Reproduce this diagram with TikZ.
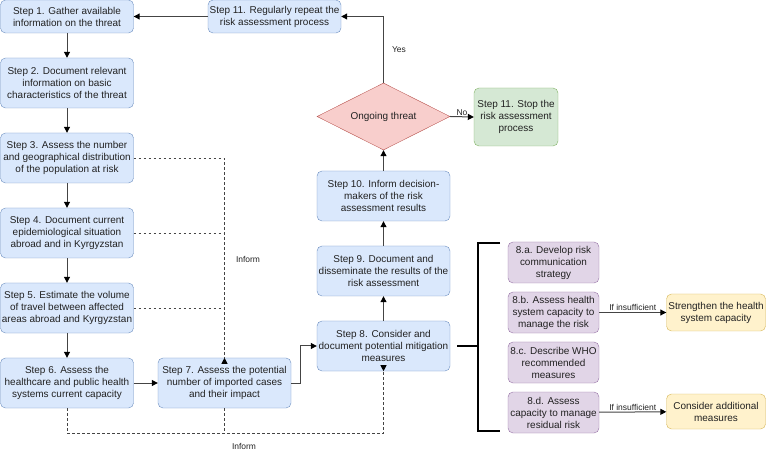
\documentclass[tikz,border=0pt]{standalone}
\usepackage{fontspec}
\setmainfont{Liberation Sans}
\usetikzlibrary{shapes,positioning,calc,arrows.meta}

\definecolor{stepfill}{HTML}{DAE8FC}
\definecolor{stepline}{HTML}{6C8EBF}
\definecolor{redfill}{HTML}{F8CECC}
\definecolor{redline}{HTML}{B85450}
\definecolor{greenfill}{HTML}{D5E8D4}
\definecolor{greenline}{HTML}{82B366}
\definecolor{purplefill}{HTML}{E1D5E7}
\definecolor{purpleline}{HTML}{9673A6}
\definecolor{yellowfill}{HTML}{FFF2CC}
\definecolor{yellowline}{HTML}{D6B656}
\definecolor{txt}{HTML}{222222}
\definecolor{edge}{HTML}{444444}

\begin{document}
\begin{tikzpicture}

        % Pixel like units, y grows downwards as in the reference
        \tikzset{
            x=1bp, y=-1bp,
            every node/.style={font=\fontsize{10}{12}\selectfont, text=txt},
            stepbox/.style={draw=stepline, fill=stepfill, rounded corners=5bp,
                align=center, inner sep=1bp, minimum width=133bp, minimum height=50bp},
            decision/.style={diamond, draw=redline, fill=redfill, aspect=2,
                inner sep=0pt, minimum width=133bp, minimum height=67bp},
            stopbox/.style={stepbox, draw=greenline, fill=greenfill,
                minimum width=84bp, minimum height=58bp},
            subbox/.style={stepbox, draw=purpleline, fill=purplefill,
                minimum width=91bp, minimum height=41bp},
            actbox/.style={stepbox, draw=yellowline, fill=yellowfill,
                minimum width=99bp, minimum height=37bp},
            tip/.style={-{Triangle[length=6bp,width=6bp,color=black]}},
            flow/.style={draw=edge, line width=1bp, tip},
            inform/.style={draw=edge, line width=0.8bp, dash pattern=on 2.5bp off 2.5bp},
            lbl/.style={font=\fontsize{8.5}{10}\selectfont, inner sep=1bp},
        }

        \useasboundingbox (0,0) rectangle (766,452);

        % Left column
        \node[stepbox, minimum height=33bp] (s1) at (67,16.5)
            {Step 1. Gather available\\information on the threat};
        \node[stepbox] (s2) at (67,83)
            {Step 2. Document relevant\\information on basic\\characteristics of the threat};
        \node[stepbox] (s3) at (67,158)
            {Step 3. Assess the number\\and geographical distribution\\of the population at risk};
        \node[stepbox] (s4) at (67,233)
            {Step 4. Document current\\epidemiological situation\\abroad and in Kyrgyzstan};
        \node[stepbox] (s5) at (67,308)
            {Step 5. Estimate the volume\\of travel between affected\\areas abroad and Kyrgyzstan};
        \node[stepbox] (s6) at (67,383)
            {Step 6. Assess the\\healthcare and public health\\systems current capacity};
        \node[stepbox] (s7) at (224.5,383)
            {Step 7. Assess the potential\\number of imported cases\\and their impact};

        % Middle column
        \node[stepbox, minimum height=33bp] (s11) at (274.5,16.5)
            {Step 11. Regularly repeat the\\risk assessment process};
        \node[decision] (threat) at (383.5,116.5) {Ongoing threat};
        \node[stopbox] (stop) at (516,117)
            {Step 11. Stop the\\risk assessment\\process};
        \node[stepbox] (s10) at (383.5,196)
            {Step 10. Inform decision-\\makers of the risk\\assessment results};
        \node[stepbox] (s9) at (383.5,271)
            {Step 9. Document and\\disseminate the results of the\\risk assessment};
        \node[stepbox] (s8) at (383.5,346)
            {Step 8. Consider and\\document potential mitigation\\measures};

        % Sub steps of step 8
        \node[subbox] (s8a) at (553.5,262.5) {8.a. Develop risk\\communication\\strategy};
        \node[subbox] (s8b) at (553.5,312.5) {8.b. Assess health\\system capacity to\\manage the risk};
        \node[subbox] (s8c) at (553.5,362.5) {8.c. Describe WHO\\recommended\\measures};
        \node[subbox] (s8d) at (553.5,412.5) {8.d. Assess\\capacity to manage\\residual risk};
        \node[actbox] (y1) at (716,312.5) {Strengthen the health\\system capacity};
        \node[actbox, minimum height=35bp] (y2) at (716,411.5) {Consider additional\\measures};

        % Bracket
        \coordinate (bt) at (478,243);
        \coordinate (bb) at (478,431);
        \draw[line width=1.4bp, black] (500,243) -- (bt) -- (bb) -- (500,431);
        \draw[line width=1.4bp, black] ([xshift=7bp]s8.east) -- (s8.east -| bt);

        \begin{scope}[flow]
            \draw (s1) -- (s2);
            \draw (s2) -- (s3);
            \draw (s3) -- (s4);
            \draw (s4) -- (s5);
            \draw (s5) -- (s6);
            \draw (s6) -- (s7);
            \draw (s7.east) -- ++(9,0) |- (s8.west);
            \draw (s8) -- (s9);
            \draw (s9) -- (s10);
            \draw (s10) -- (threat);
            \draw (threat.north) |- (s11.east)
                node[lbl, pos=0.25, right=7bp] {Yes};
            \draw (threat.east) -- (stop.west)
                node[lbl, midway, above] {No};
            \draw (s11) -- (s1);
            \draw (s8b) -- (y1) node[lbl, midway, above] {If insufficient};
            \draw (s8d) -- (y2) node[lbl, midway, above] {If insufficient};
        \end{scope}

        % Inform links
        \begin{scope}[inform]
            \draw (s3.east) -| (s7.north);
            \draw (s4.east) -- (s4.east -| s7.north);
            \draw (s5.east) -- (s5.east -| s7.north);
            \draw (s6.south) -- ++(0,25) coordinate (c6) -| (s8.south);
            \draw (s7.south) -- (s7.south |- c6);
            \draw[tip, solid] ([yshift=-4bp]s7.north) -- (s7.north);
            \draw[tip, solid] ([yshift=4bp]s8.south) -- (s8.south);
        \end{scope}
        \node[lbl] (inf1) at (248,259) {Inform};
        \node[lbl] (inf2) at (244,446) {Inform};

\end{tikzpicture}
\end{document}
